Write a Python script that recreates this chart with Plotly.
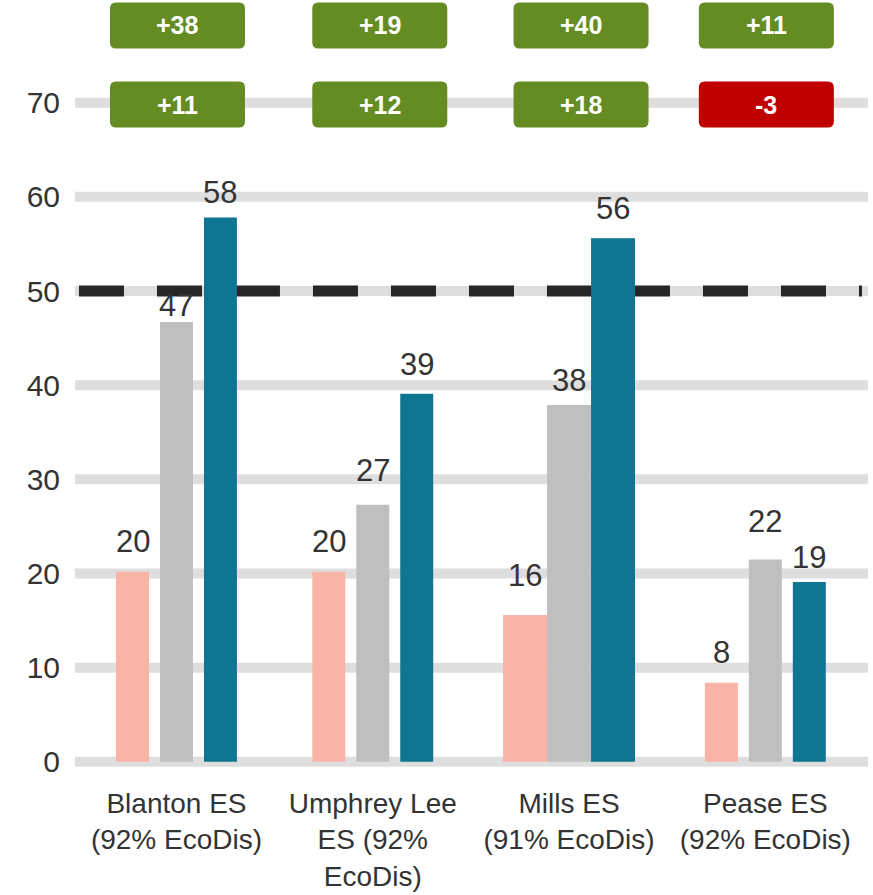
import plotly.graph_objects as go

categories = ["Blanton ES<br>(92% EcoDis)", "Umphrey Lee<br>ES (92%<br>EcoDis)",
              "Mills ES<br>(91% EcoDis)", "Pease ES<br>(92% EcoDis)"]
series_a = [20.2, 20.2, 15.6, 8.4]
series_b = [46.7, 27.3, 37.9, 21.5]
series_c = [57.8, 39.1, 55.6, 19.1]
labels_a = ["20", "20", "16", "8"]
labels_b = ["47", "27", "38", "22"]
labels_c = ["58", "39", "56", "19"]
change_row1 = ["+38", "+19", "+40", "+11"]
change_row2 = ["+11", "+12", "+18", "-3"]
target = 50
y_ticks = [0, 10, 20, 30, 40, 50, 60, 70]

colors = ["#f7b4a7", "#bfbfbf", "#107591"]
# bar widths (category units); Mills bars drawn wider with no gaps
widths = [0.168, 0.168, 0.224, 0.168]
gaps = [0.056, 0.056, 0.0, 0.056]
# vertical gap (px) of each value label above its bar
label_gaps = [[19, 19, 28, 19], [5, 23, 13, 26], [14, 18, 18, 13]]

FONT = "Liberation Sans, Arial, sans-serif"
fig = go.Figure()
annotations = []
for i, (vals, labs) in enumerate([(series_a, labels_a), (series_b, labels_b), (series_c, labels_c)]):
    offsets = [-(1.5 * w + g) + i * (w + g) for w, g in zip(widths, gaps)]
    fig.add_trace(go.Bar(
        x=categories, y=vals, width=widths, offset=offsets,
        marker=dict(color=colors[i], line=dict(width=0)),
        showlegend=False, hoverinfo="skip"))
    for j, (v, lab) in enumerate(zip(vals, labs)):
        annotations.append(dict(x=j + offsets[j] + widths[j] / 2, y=v, xref="x", yref="y",
                                text=lab, showarrow=False, yanchor="bottom",
                                yshift=label_gaps[i][j] - 8,
                                font=dict(family=FONT, size=31, color="#333333")))

def box_path(hw, hh, r):
    return (f"M {-hw + r},{-hh} L {hw - r},{-hh} Q {hw},{-hh} {hw},{-hh + r} "
            f"L {hw},{hh - r} Q {hw},{hh} {hw - r},{hh} L {-hw + r},{hh} "
            f"Q {-hw},{hh} {-hw},{hh - r} L {-hw},{-hh + r} Q {-hw},{-hh} {-hw + r},{-hh} Z")

shapes = []
# gridlines drawn as shapes so the target line can sit between them and the bars
for t in y_ticks:
    shapes.append(dict(type="line", xref="paper", yref="y", x0=0, x1=1, y0=t, y1=t,
                       line=dict(color="#dedede", width=10), layer="below"))
shapes.append(dict(type="line", xref="paper", yref="y", x0=0.005, x1=0.9924, y0=target, y1=target,
                   line=dict(color="#262626", width=11, dash="45px,33px"), layer="below"))

shifts = [1, 7, 12, 1]
for row_y, row in [(78.2, change_row1), (69.8, change_row2)]:
    for j, txt in enumerate(row):
        col = "#c00000" if txt.startswith("-") else "#648c23"
        shapes.append(dict(type="path", xref="x", yref="y", xsizemode="pixel", ysizemode="pixel",
                           xanchor=j + shifts[j] / 196.3, yanchor=row_y,
                           path=box_path(67.5, 23, 6), fillcolor=col, line=dict(width=0), layer="above"))
        annotations.append(dict(x=j, y=row_y, xref="x", yref="y", text=f"<b>{txt}</b>",
                                showarrow=False, xshift=shifts[j],
                                font=dict(family=FONT, size=25, color="white")))

fig.update_layout(
    width=873, height=895, margin=dict(l=75, r=5, t=0, b=119),
    paper_bgcolor="white", plot_bgcolor="white", barmode="overlay",
    shapes=shapes, annotations=annotations,
    xaxis=dict(range=[-0.517, 3.523], showgrid=False, zeroline=False, showline=False,
               automargin=False, ticklabelstandoff=8,
               tickfont=dict(family=FONT, size=28, color="#333333"), ticks=""),
    yaxis=dict(range=[-1.5, 80.9], tickvals=y_ticks, showgrid=False,
               zeroline=False, showline=False, ticks="", ticklabelstandoff=14, automargin=False,
               tickfont=dict(family=FONT, size=30, color="#333333")),
)
fig.write_html("out.html", config={"displayModeBar": False},
               post_script="document.body.style.margin='0px';")
